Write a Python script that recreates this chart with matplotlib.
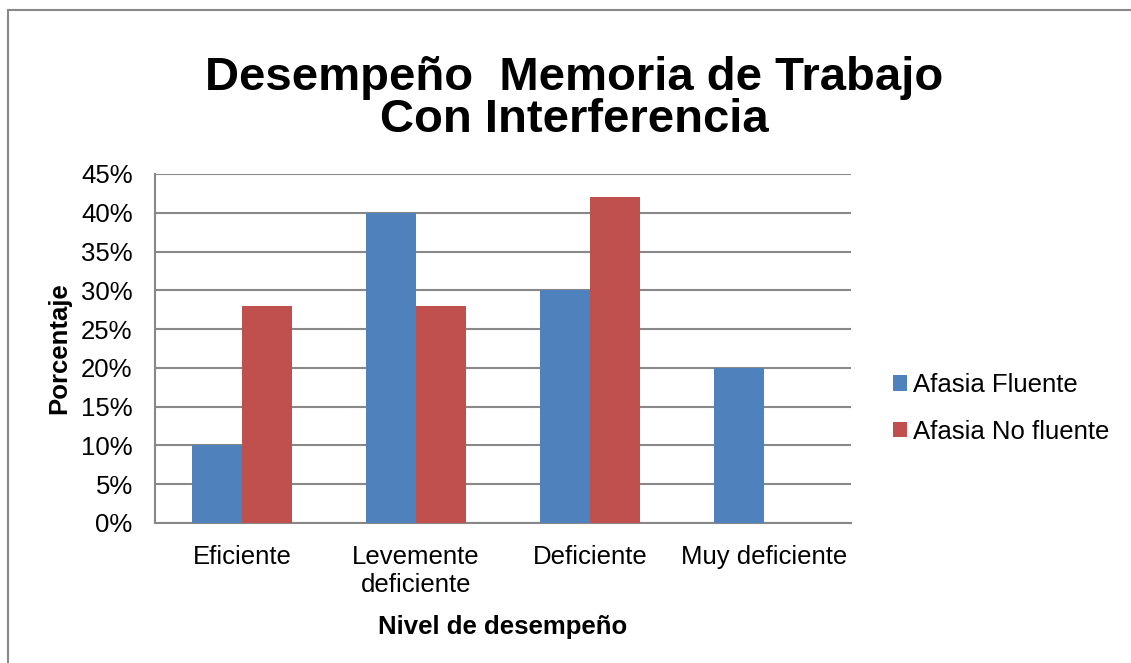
import matplotlib
matplotlib.use("Agg")
import matplotlib.pyplot as plt
import numpy as np

categorias = ["Eficiente", "Levemente\ndeficiente", "Deficiente", "Muy deficiente"]
fluente = [10, 40, 30, 20]
no_fluente = [28, 28, 42, 0]
series = ["Afasia Fluente", "Afasia No fluente"]
yticks = [0, 5, 10, 15, 20, 25, 30, 35, 40, 45]

plt.rcParams['font.family'] = ['Liberation Sans', 'DejaVu Sans']

azul = "#4F81BD"
rojo = "#C0504D"
gris = "#888888"

fig = plt.figure(figsize=(11.31, 6.63), dpi=100)
ax = fig.add_axes([0.137, 0.2112, 0.6154, 0.5264])

x = np.arange(len(categorias))
w = 1 / 3.5
ax.bar(x - w / 2, fluente, w, color=azul, label=series[0], zorder=3)
ax.bar(x + w / 2, no_fluente, w, color=rojo, label=series[1], zorder=3)

ax.set_xlim(-0.5, len(categorias) - 0.5)
ax.set_ylim(0, 45)
ax.set_yticks(yticks)
ax.set_yticklabels([f"{v}%" for v in yticks])
ax.set_xticks(x)
ax.set_xticklabels(categorias, linespacing=1.2)
ax.tick_params(axis='both', length=0, labelsize=18.5)
ax.tick_params(axis='y', pad=16)
ax.tick_params(axis='x', pad=16)

ax.yaxis.grid(True, color=gris, linewidth=1.5, zorder=0)
for s in ["top", "right"]:
    ax.spines[s].set_visible(False)
for s in ["left", "bottom"]:
    ax.spines[s].set_color(gris)
    ax.spines[s].set_linewidth(1.5)

ax.set_ylabel("Porcentaje", fontsize=18.5, fontweight='bold', labelpad=7)
ax.set_xlabel("Nivel de desempeño", fontsize=18.5, fontweight='bold', labelpad=13)

fig.text(0.508, 0.851, "Desempeño  Memoria de Trabajo\nCon Interferencia",
         ha='center', va='center', fontsize=34, fontweight='bold', linespacing=0.95)

fig.legend(loc='center left', bbox_to_anchor=(0.769, 0.384), frameon=False,
           fontsize=18.5, handlelength=0.55, handleheight=0.55,
           handletextpad=0.25, labelspacing=0.88)

# marco del grafico (solo arriba e izquierda se ven)
fig.add_artist(plt.Line2D([8 / 1131, 1130 / 1131], [1 - 10 / 663, 1 - 10 / 663],
                          color=gris, linewidth=1.5))
fig.add_artist(plt.Line2D([8 / 1131, 8 / 1131], [0, 1 - 10 / 663],
                          color=gris, linewidth=1.5))

fig.savefig("out.png", dpi=100)
